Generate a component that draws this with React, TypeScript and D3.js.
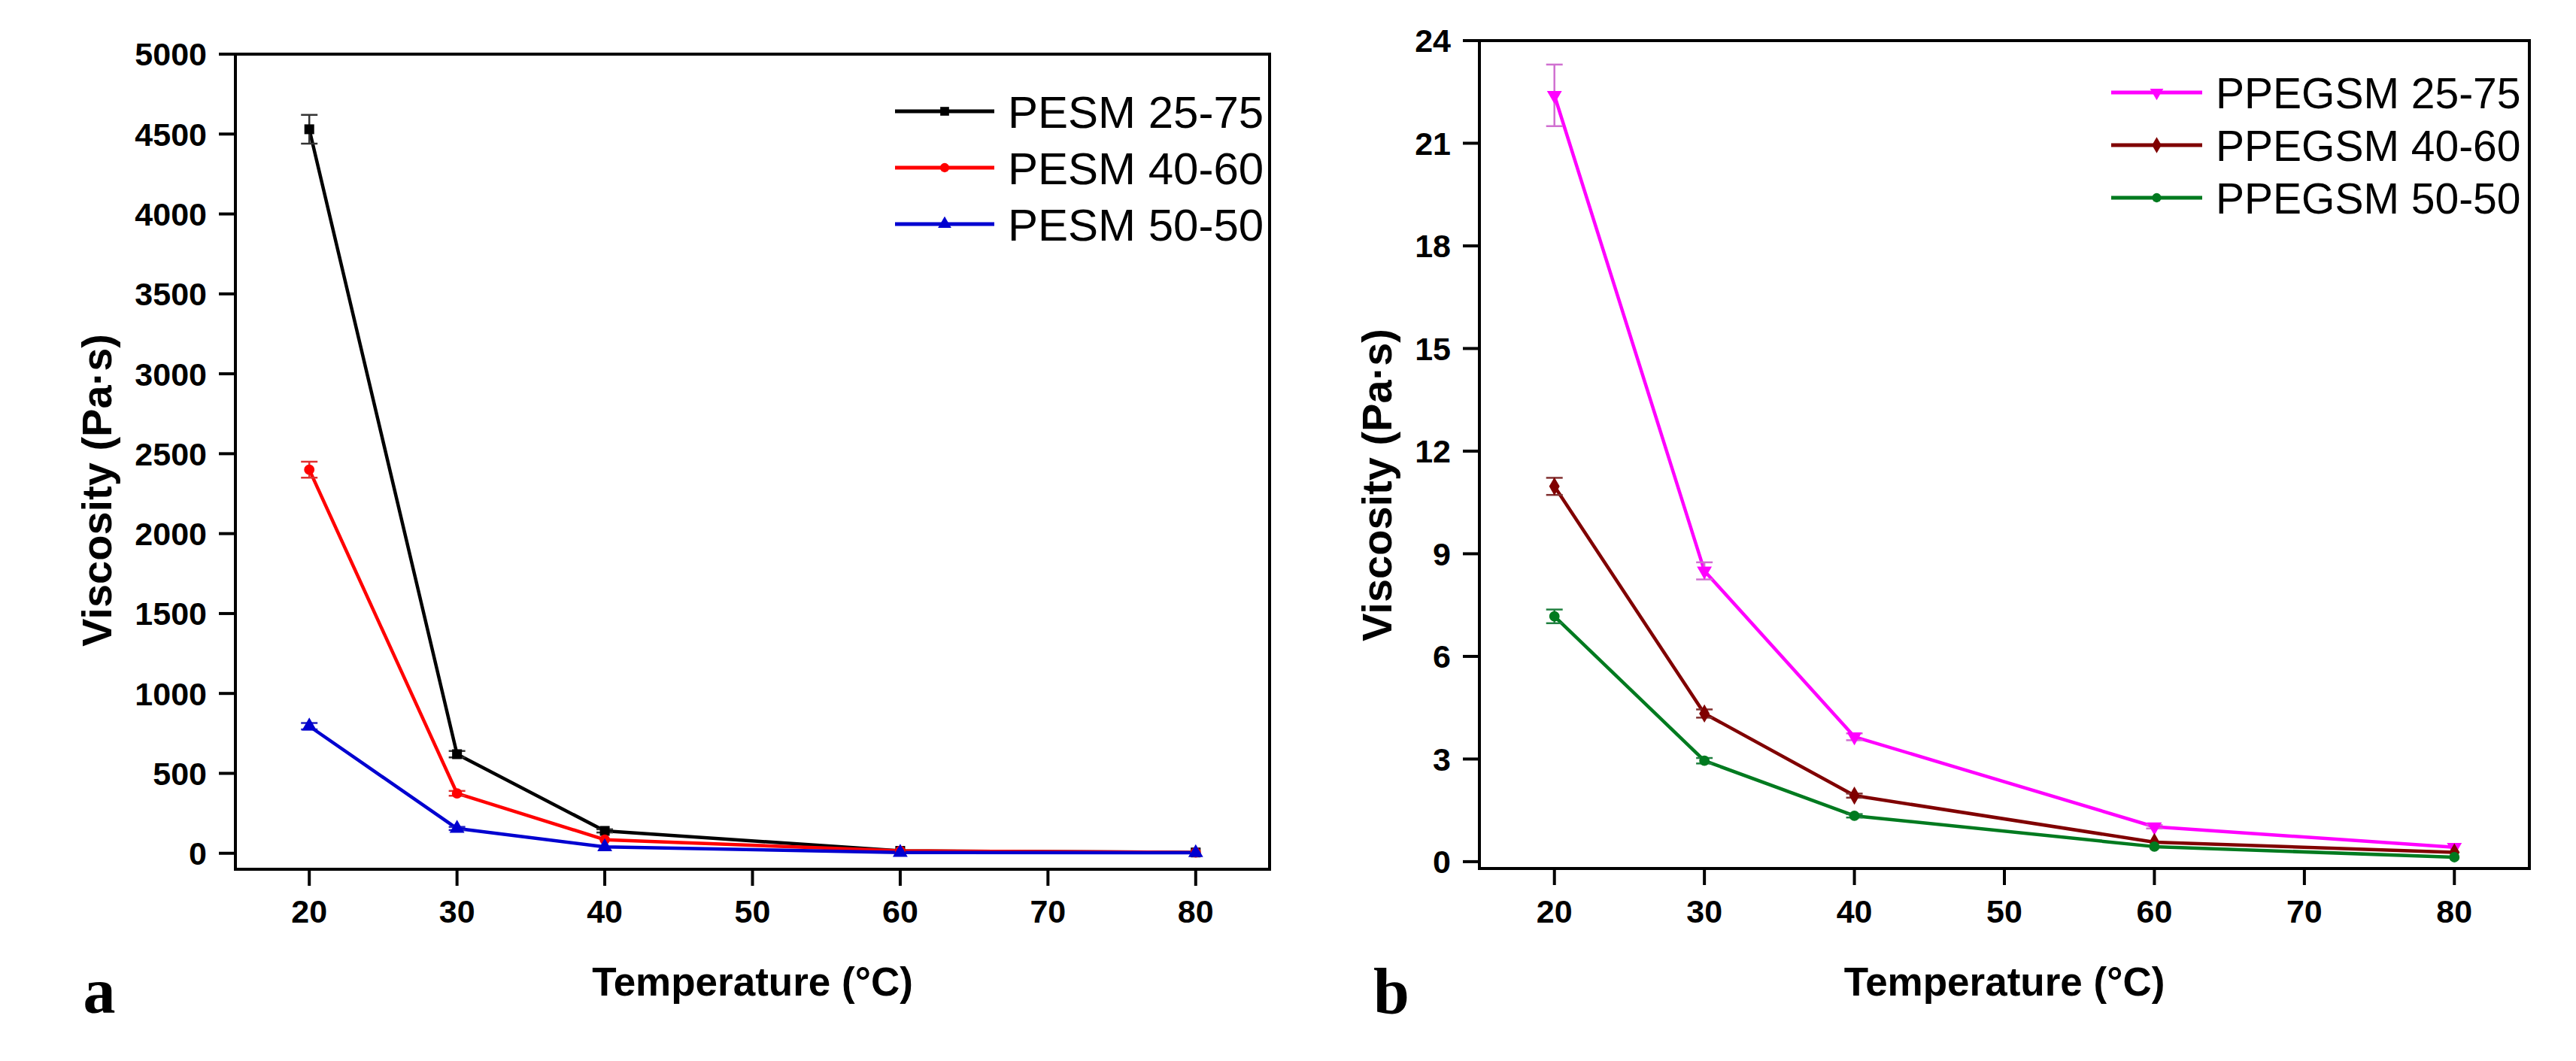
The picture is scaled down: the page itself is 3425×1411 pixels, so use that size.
import React from "react";
import * as d3 from "d3";

// temperatures (°C)
const temps = [20, 30, 40, 60, 80];

// panel a – PESM viscosity (Pa·s)
const pesm2575 = [4530, 620, 140, 15, 5];
const pesm2575Err = [90, 20, 10, 4, 2];
const pesm4060 = [2400, 375, 85, 15, 5];
const pesm4060Err = [50, 15, 8, 3, 2];
const pesm5050 = [795, 155, 40, 5, 3];
const pesm5050Err = [20, 10, 5, 2, 1];

// panel b – PPEGSM viscosity (Pa·s)
const ppegsm2575 = [22.4, 8.5, 3.65, 1.02, 0.42];
const ppegsm2575Err = [0.9, 0.25, 0.1, 0.05, 0.03];
const ppegsm4060 = [10.97, 4.33, 1.93, 0.57, 0.27];
const ppegsm4060Err = [0.25, 0.12, 0.06, 0.03, 0.02];
const ppegsm5050 = [7.17, 2.95, 1.34, 0.44, 0.13];
const ppegsm5050Err = [0.2, 0.08, 0.05, 0.03, 0.02];

// tick labels
const xTicks = [20, 30, 40, 50, 60, 70, 80];
const yTicksA = [0, 500, 1000, 1500, 2000, 2500, 3000, 3500, 4000, 4500, 5000];
const yTicksB = [0, 3, 6, 9, 12, 15, 18, 21, 24];

const W = 3425;
const H = 1411;
const FONT = "'Liberation Sans', Arial, sans-serif";

interface Series {
  name: string;
  values: number[];
  errors: number[];
  color: string;
  errColor: string;
  symbol: d3.SymbolType;
  size: number;
  rotate?: number;
}

interface PanelProps {
  series: Series[];
  yTicks: number[];
  yDomain: [number, number];
  box: { left: number; right: number; top: number; bottom: number };
  legend: { x1: number; x2: number; textX: number; y0: number; dy: number; fontSize: number };
  yTitleX: number;
  yTitleY: number;
  letter: string;
  letterX: number;
}

const Panel: React.FC<PanelProps> = ({ series, yTicks, yDomain, box, legend, yTitleX, yTitleY, letter, letterX }) => {
  const x = d3.scaleLinear().domain([15, 85]).range([box.left, box.right]);
  const y = d3.scaleLinear().domain(yDomain).range([box.bottom, box.top]);
  const line = d3
    .line<number>()
    .x((_, i) => x(temps[i]))
    .y((d) => y(d));
  const tickLen = 22;
  const cx = (box.left + box.right) / 2;

  return (
    <g>
      {/* series lines */}
      {series.map((s) => (
        <path key={s.name + "-line"} d={line(s.values) || ""} fill="none" stroke={s.color} strokeWidth={4.5} strokeLinejoin="round" />
      ))}
      {/* error bars */}
      {series.map((s) =>
        s.values.map((v, i) => {
          const px = x(temps[i]);
          const y1 = y(v + s.errors[i]);
          const y2 = y(v - s.errors[i]);
          if (Math.abs(y2 - y1) < 4) return null;
          return (
            <g key={s.name + "-err-" + i} stroke={s.errColor} strokeWidth={2.5}>
              <line x1={px} x2={px} y1={y1} y2={y2} />
              <line x1={px - 11} x2={px + 11} y1={y1} y2={y1} />
              <line x1={px - 11} x2={px + 11} y1={y2} y2={y2} />
            </g>
          );
        })
      )}
      {/* markers */}
      {series.map((s) =>
        s.values.map((v, i) => (
          <path
            key={s.name + "-pt-" + i}
            d={d3.symbol().type(s.symbol).size(s.size)() || ""}
            transform={`translate(${x(temps[i])},${y(v)}) rotate(${s.rotate || 0})`}
            fill={s.color}
          />
        ))
      )}

      {/* frame */}
      <rect x={box.left} y={box.top} width={box.right - box.left} height={box.bottom - box.top} fill="none" stroke="#000" strokeWidth={4} />

      {/* x axis ticks */}
      {xTicks.map((t) => (
        <g key={"xt" + t}>
          <line x1={x(t)} x2={x(t)} y1={box.bottom} y2={box.bottom + tickLen} stroke="#000" strokeWidth={4} />
          <text x={x(t)} y={1227} textAnchor="middle" fontFamily={FONT} fontWeight="bold" fontSize={43} fill="#000">
            {t}
          </text>
        </g>
      ))}
      {/* y axis ticks */}
      {yTicks.map((t) => (
        <g key={"yt" + t}>
          <line x1={box.left - tickLen} x2={box.left} y1={y(t)} y2={y(t)} stroke="#000" strokeWidth={4} />
          <text
            x={box.left - tickLen - 16}
            y={y(t)}
            dy="0.36em"
            textAnchor="end"
            fontFamily={FONT}
            fontWeight="bold"
            fontSize={43}
            fill="#000"
          >
            {t}
          </text>
        </g>
      ))}

      {/* axis titles */}
      <text x={cx} y={1324} textAnchor="middle" fontFamily={FONT} fontWeight="bold" fontSize={53} fill="#000">
        Temperature (°C)
      </text>
      <text
        transform={`translate(${yTitleX},${yTitleY}) rotate(-90)`}
        dy="0.36em"
        textAnchor="middle"
        fontFamily={FONT}
        fontWeight="bold"
        fontSize={56}
        fill="#000"
      >
        Viscosity (Pa·s)
      </text>

      {/* legend */}
      {series.map((s, i) => {
        const ly = legend.y0 + i * legend.dy;
        return (
          <g key={s.name + "-leg"}>
            <line x1={legend.x1} x2={legend.x2} y1={ly} y2={ly} stroke={s.color} strokeWidth={5} />
            <path
              d={d3.symbol().type(s.symbol).size(s.size * 0.8)() || ""}
              transform={`translate(${(legend.x1 + legend.x2) / 2},${ly}) rotate(${s.rotate || 0})`}
              fill={s.color}
            />
            <text x={legend.textX} y={ly} dy="0.36em" fontFamily={FONT} fontSize={legend.fontSize} fill="#000">
              {s.name}
            </text>
          </g>
        );
      })}

      {/* panel letter */}
      <text x={letterX} y={1347} textAnchor="middle" fontFamily="'Liberation Serif', 'Times New Roman', serif" fontWeight="bold" fontSize={86} fill="#000">
        {letter}
      </text>
    </g>
  );
};

const seriesA: Series[] = [
  { name: "PESM 25-75", values: pesm2575, errors: pesm2575Err, color: "#000000", errColor: "#333333", symbol: d3.symbolSquare, size: 170 },
  { name: "PESM 40-60", values: pesm4060, errors: pesm4060Err, color: "#ff0000", errColor: "#e03030", symbol: d3.symbolCircle, size: 150 },
  { name: "PESM 50-50", values: pesm5050, errors: pesm5050Err, color: "#0000d0", errColor: "#2020c0", symbol: d3.symbolTriangle, size: 170 },
];

const seriesB: Series[] = [
  { name: "PPEGSM 25-75", values: ppegsm2575, errors: ppegsm2575Err, color: "#ff00ff", errColor: "#d070d0", symbol: d3.symbolTriangle, size: 170, rotate: 180 },
  { name: "PPEGSM 40-60", values: ppegsm4060, errors: ppegsm4060Err, color: "#800000", errColor: "#803030", symbol: d3.symbolDiamond, size: 170 },
  { name: "PPEGSM 50-50", values: ppegsm5050, errors: ppegsm5050Err, color: "#007a1f", errColor: "#208040", symbol: d3.symbolCircle, size: 150 },
];

export default function App() {
  return (
    <svg
      width={W}
      height={H}
      viewBox={`0 0 ${W} ${H}`}
      style={{ position: "absolute", left: 0, top: 0, background: "#fff" }}
    >
      <rect width={W} height={H} fill="#fff" />
      <Panel
        series={seriesA}
        yTicks={yTicksA}
        yDomain={[-100, 5000]}
        box={{ left: 313, right: 1688, top: 72, bottom: 1156 }}
        legend={{ x1: 1190, x2: 1322, textX: 1340, y0: 148, dy: 75, fontSize: 60 }}
        yTitleX={128}
        yTitleY={652}
        letter="a"
        letterX={132}
      />
      <Panel
        series={seriesB}
        yTicks={yTicksB}
        yDomain={[-0.2, 24]}
        box={{ left: 1967, right: 3363, top: 54, bottom: 1155 }}
        legend={{ x1: 2807, x2: 2928, textX: 2946, y0: 123, dy: 70, fontSize: 57 }}
        yTitleX={1830}
        yTitleY={645}
        letter="b"
        letterX={1850}
      />
    </svg>
  );
}
